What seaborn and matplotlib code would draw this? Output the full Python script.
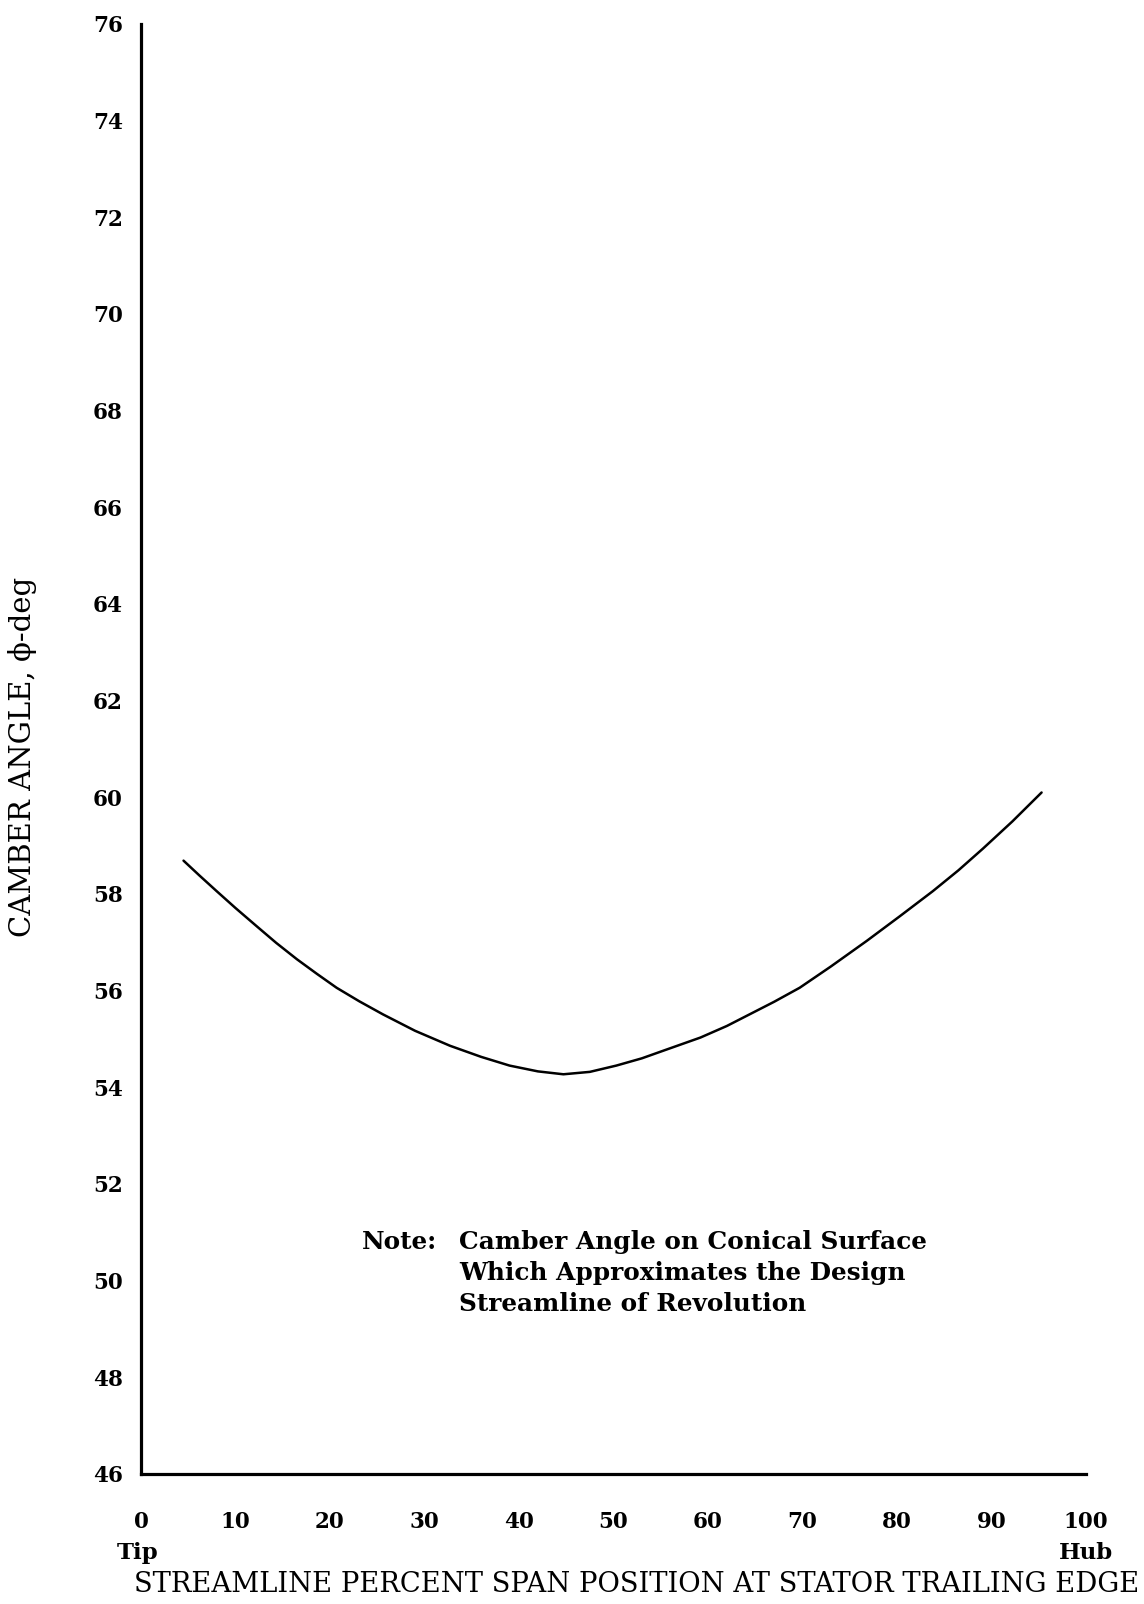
import matplotlib
matplotlib.use("Agg")
import matplotlib.pyplot as plt
import seaborn as sns
import pandas as pd

# Data
span_pct = [4.5, 6.2, 8.0, 10.0, 12.2, 14.3, 16.5, 18.6, 20.7, 23.1, 25.6,
            29.0, 32.7, 36.0, 39.0, 42.0, 44.7, 47.5, 50.3, 53.0, 55.3,
            59.2, 62.0, 64.4, 67.0, 69.7, 73.0, 76.8, 80.3, 83.8, 86.5,
            89.1, 92.2, 95.3]
camber_deg = [58.69, 58.38, 58.06, 57.71, 57.34, 56.99, 56.65, 56.35, 56.06,
              55.78, 55.51, 55.17, 54.86, 54.63, 54.45, 54.33, 54.27, 54.32,
              54.45, 54.60, 54.76, 55.03, 55.27, 55.51, 55.77, 56.06, 56.50,
              57.03, 57.54, 58.06, 58.49, 58.94, 59.50, 60.10]
x_ticks = [0, 10, 20, 30, 40, 50, 60, 70, 80, 90, 100]
y_ticks = list(range(46, 77, 2))

sns.set_style("white")
plt.rcParams['font.family'] = ['DejaVu Serif', 'Liberation Serif']
plt.rcParams['text.color'] = 'black'
plt.rcParams['xtick.color'] = 'black'
plt.rcParams['ytick.color'] = 'black'
plt.rcParams['axes.labelcolor'] = 'black'

W, H = 1144, 1604
fig = plt.figure(figsize=(W / 100, H / 100), dpi=100)
ax = fig.add_axes([141 / W, 1 - 1474 / H, (1086 - 141) / W, (1474 - 24) / H])

df = pd.DataFrame({"span": span_pct, "camber": camber_deg})
sns.lineplot(data=df, x="span", y="camber", ax=ax, color="black", linewidth=1.8)

ax.set_xlim(0, 100)
ax.set_ylim(46, 76)
ax.set_xticks(x_ticks)
ax.set_yticks(y_ticks)
ax.set_xticklabels([str(v) for v in x_ticks], fontsize=15.5, fontweight='bold',
                   color='black')
ax.set_yticklabels([str(v) for v in y_ticks], fontsize=15.5, fontweight='bold',
                   color='black')
ax.tick_params(axis='x', length=0, pad=27)
ax.tick_params(axis='y', length=0, pad=13)
ax.set_xlabel("")
ax.set_ylabel("")

for s in ["top", "right"]:
    ax.spines[s].set_visible(False)
for s in ["left", "bottom"]:
    ax.spines[s].set_color("black")
    ax.spines[s].set_linewidth(2.3)

fig.text(23 / W, 1 - 757 / H, "CAMBER ANGLE, \u03d5-deg", rotation=90,
         ha='center', va='center', fontsize=21, color='black')
fig.text(138 / W, 1 - 1553 / H, "Tip", ha='center', va='center',
         fontsize=16.5, fontweight='bold', color='black')
fig.text(1086 / W, 1 - 1553 / H, "Hub", ha='center', va='center',
         fontsize=16.5, fontweight='bold', color='black')
fig.text(637 / W, 1 - 1585 / H,
         "STREAMLINE PERCENT SPAN POSITION AT STATOR TRAILING EDGE",
         ha='center', va='center', fontsize=19.7, color='black')

note_x1 = 362 / W
note_x2 = 459 / W
fig.text(note_x1, 1 - 1242 / H, "Note:", ha='left', va='center',
         fontsize=17.8, fontweight='bold', color='black')
fig.text(note_x2, 1 - 1242 / H, "Camber Angle on Conical Surface",
         ha='left', va='center', fontsize=17.8, fontweight='bold', color='black')
fig.text(note_x2, 1 - 1273 / H, "Which Approximates the Design",
         ha='left', va='center', fontsize=17.8, fontweight='bold', color='black')
fig.text(note_x2, 1 - 1304 / H, "Streamline of Revolution",
         ha='left', va='center', fontsize=17.8, fontweight='bold', color='black')

fig.savefig("out.png", dpi=100, facecolor="white")
